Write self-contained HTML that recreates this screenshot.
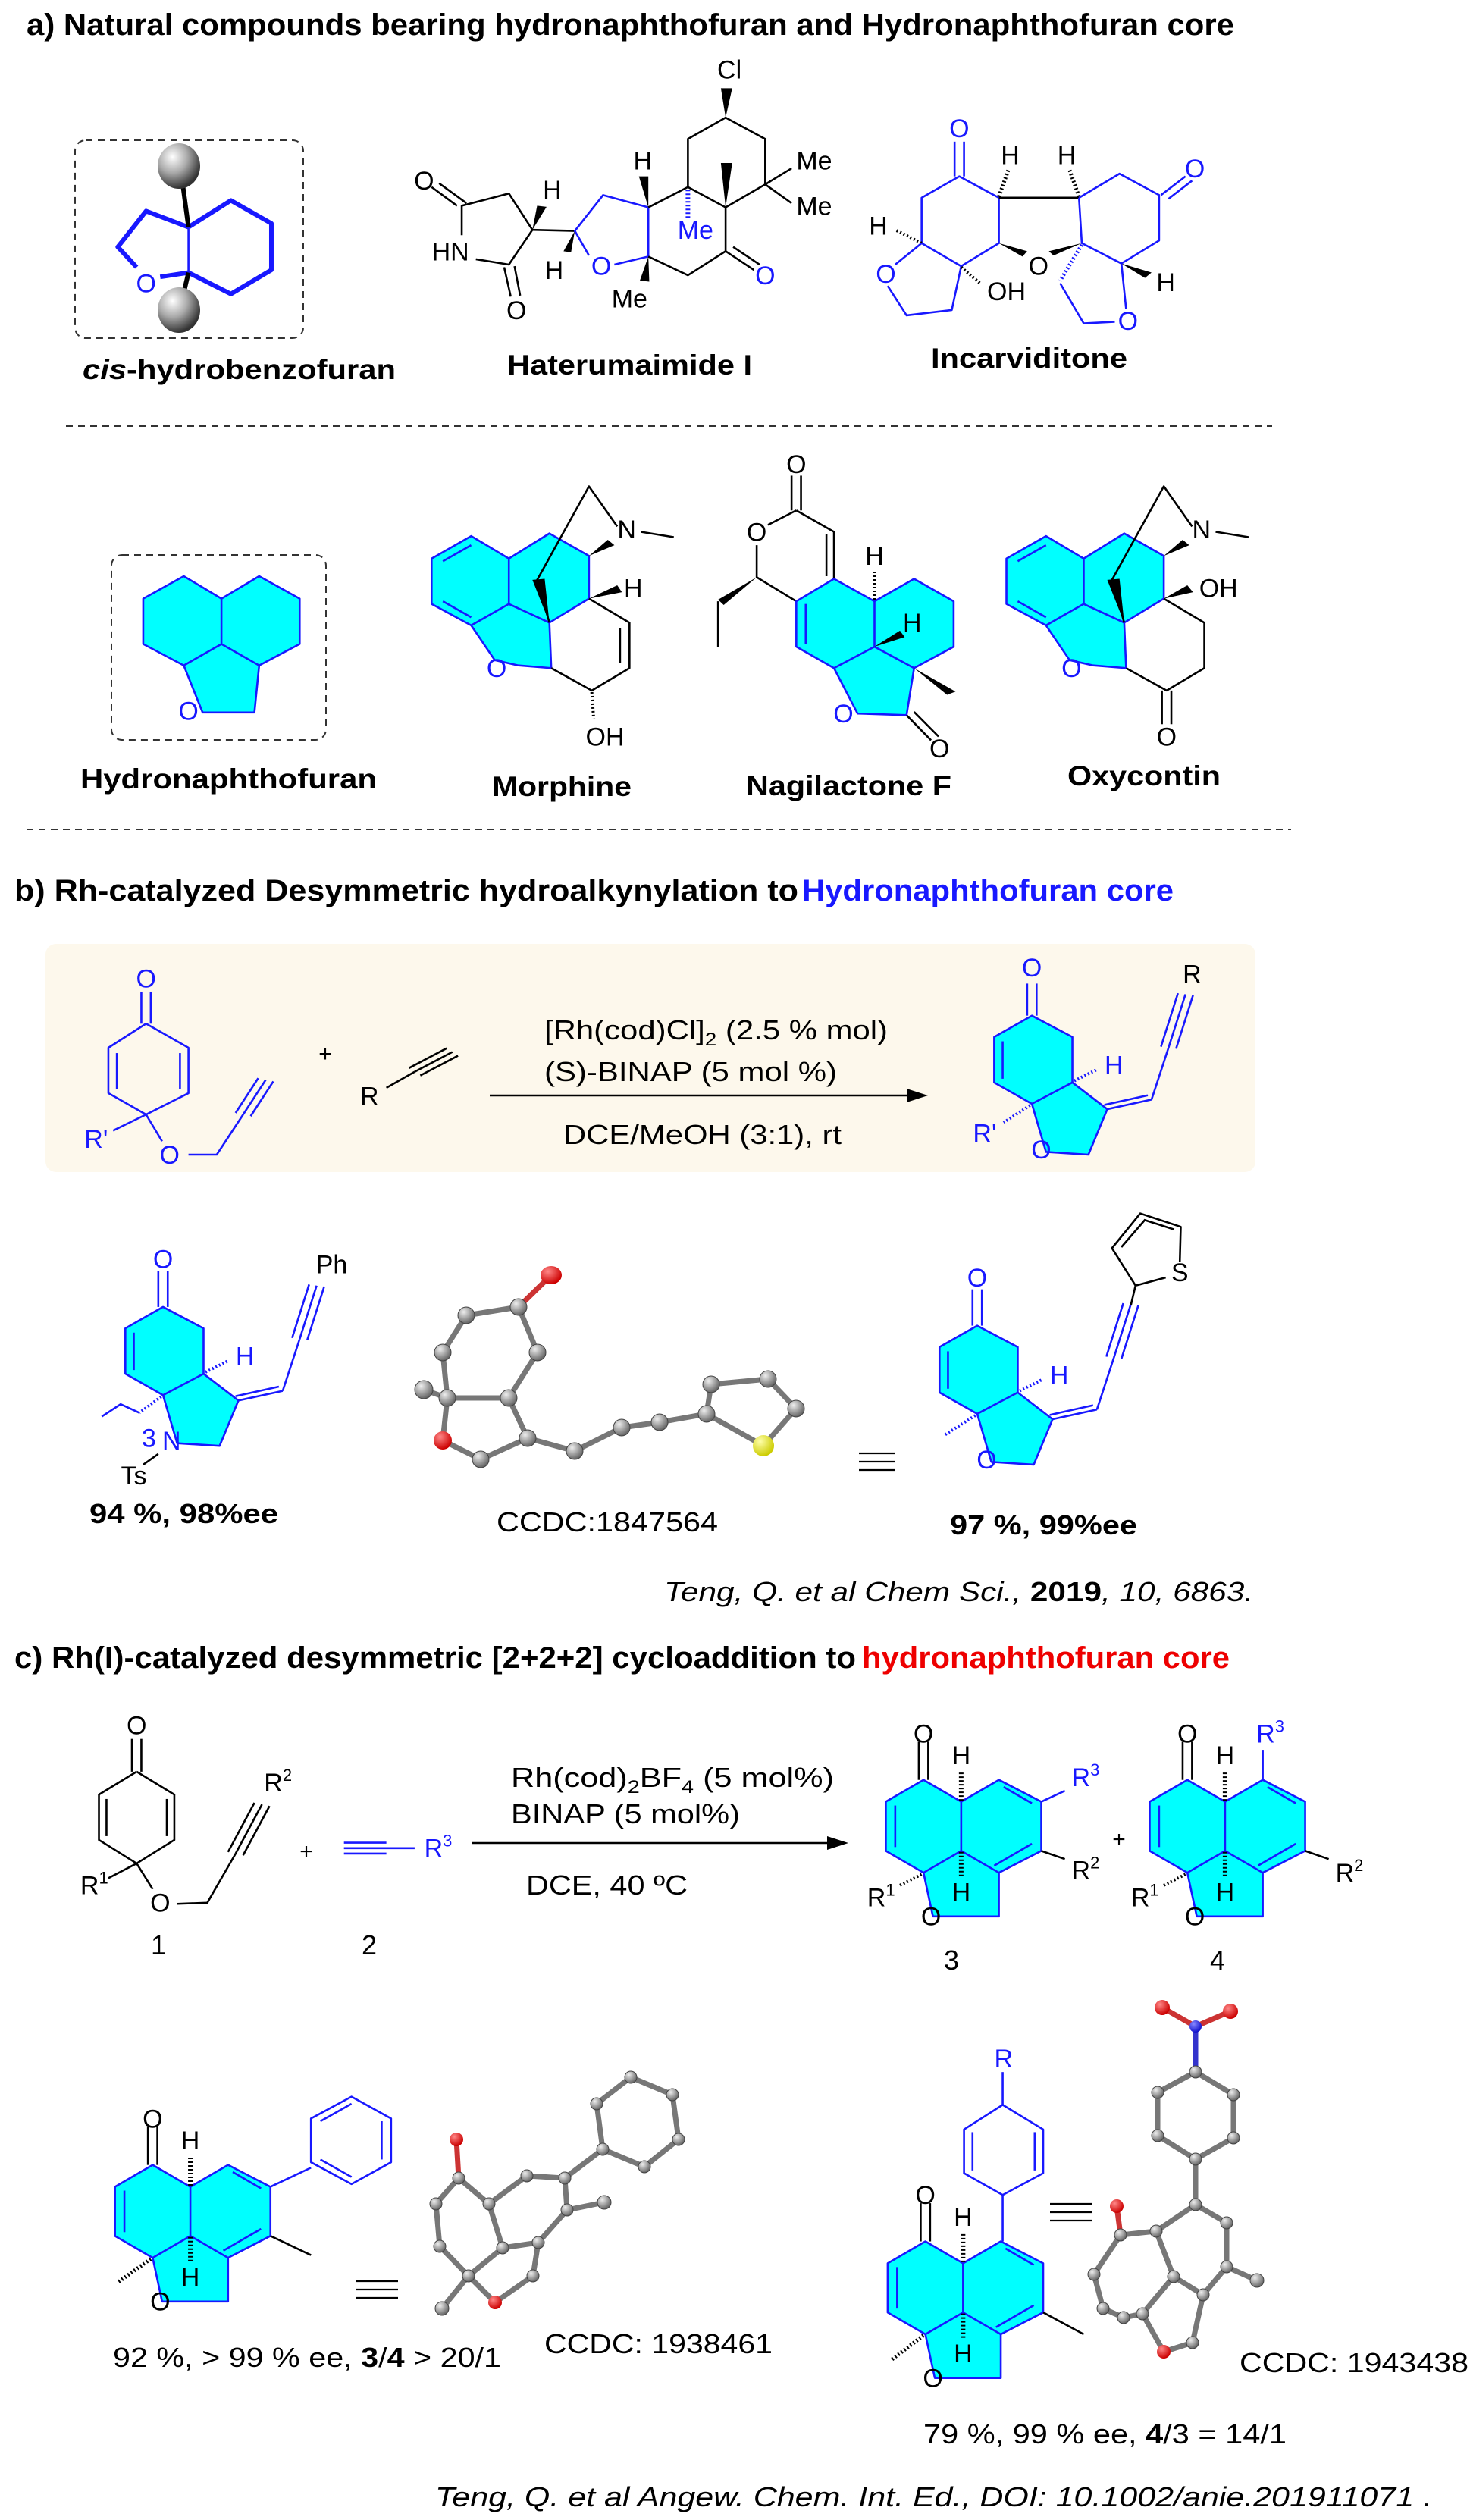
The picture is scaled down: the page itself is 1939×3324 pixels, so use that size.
<!DOCTYPE html>
<html><head><meta charset="utf-8"><style>
html,body{margin:0;padding:0;background:#fff}
svg{display:block}
.b,.k,.c,.g{vector-effect:non-scaling-stroke;stroke-width:2.6;fill:none;stroke-linejoin:round}
.b{stroke:#1818ff}.k{stroke:#000}.c{fill:#00ffff;stroke:#1818ff}
.h{vector-effect:non-scaling-stroke;stroke-width:7;stroke-dasharray:2 3;fill:none}
text{font-family:"Liberation Sans",Arial,sans-serif}
.at{font-size:34px;text-anchor:middle}
.bl{fill:#1818ff}
.st{stroke:#777;stroke-width:7;stroke-linecap:round}
.ball{fill:#8a8a95;stroke:#555;stroke-width:1.5}
</style></head><body>
<svg width="1939" height="3324" viewBox="0 0 1939 3324" xmlns="http://www.w3.org/2000/svg">
<defs>
<radialGradient id="sp" cx="35%" cy="30%" r="70%"><stop offset="0" stop-color="#fff"/><stop offset="0.5" stop-color="#aaa"/><stop offset="1" stop-color="#333"/></radialGradient>
<radialGradient id="gb" cx="35%" cy="30%" r="70%"><stop offset="0" stop-color="#eee"/><stop offset="1" stop-color="#666"/></radialGradient>
<radialGradient id="rb" cx="35%" cy="30%" r="70%"><stop offset="0" stop-color="#f88"/><stop offset="1" stop-color="#c00"/></radialGradient>
<radialGradient id="yb" cx="35%" cy="30%" r="70%"><stop offset="0" stop-color="#ffa"/><stop offset="1" stop-color="#cc0"/></radialGradient>
<radialGradient id="nb" cx="35%" cy="30%" r="70%"><stop offset="0" stop-color="#88f"/><stop offset="1" stop-color="#11c"/></radialGradient>
</defs>

<!-- Headers -->
<text x="35" y="46" font-size="40" font-weight="bold" textLength="1593" lengthAdjust="spacingAndGlyphs">a) Natural compounds bearing hydronaphthofuran and Hydronaphthofuran core</text>
<text x="19" y="1188" font-size="40" font-weight="bold" textLength="1034" lengthAdjust="spacingAndGlyphs">b)  Rh-catalyzed Desymmetric  hydroalkynylation to</text>
<text x="1058" y="1188" font-size="40" font-weight="bold" fill="#1818ff" textLength="490" lengthAdjust="spacingAndGlyphs">Hydronaphthofuran core</text>
<text x="19" y="2200" font-size="40" font-weight="bold" textLength="1110" lengthAdjust="spacingAndGlyphs">c)  Rh(I)-catalyzed desymmetric [2+2+2] cycloaddition to</text>
<text x="1137" y="2200" font-size="40" font-weight="bold" fill="#ee0000" textLength="485" lengthAdjust="spacingAndGlyphs">hydronaphthofuran core</text>

<line x1="87" y1="562" x2="1678" y2="562" stroke="#333" stroke-width="2" stroke-dasharray="9 7"/>
<line x1="35" y1="1094" x2="1703" y2="1094" stroke="#333" stroke-width="2" stroke-dasharray="9 7"/>
<rect x="99" y="185" width="301" height="261" rx="14" fill="none" stroke="#333" stroke-width="2" stroke-dasharray="9 7"/>
<rect x="147" y="732" width="283" height="244" rx="14" fill="none" stroke="#333" stroke-width="2" stroke-dasharray="9 7"/>

<g font-size="37" font-weight="bold">
<text x="109" y="500" textLength="413" lengthAdjust="spacingAndGlyphs"><tspan font-style="italic">cis</tspan>-hydrobenzofuran</text>
<text x="669" y="494" textLength="323" lengthAdjust="spacingAndGlyphs">Haterumaimide I</text>
<text x="1228" y="485" textLength="259" lengthAdjust="spacingAndGlyphs">Incarviditone</text>
<text x="106" y="1040" textLength="391" lengthAdjust="spacingAndGlyphs">Hydronaphthofuran</text>
<text x="649" y="1050" textLength="184" lengthAdjust="spacingAndGlyphs">Morphine</text>
<text x="984" y="1049" textLength="271" lengthAdjust="spacingAndGlyphs">Nagilactone F</text>
<text x="1408" y="1036" textLength="202" lengthAdjust="spacingAndGlyphs">Oxycontin</text>
</g>

<g transform="matrix(1.243 0 0 0.705 0 0)">
 <polyline class="b" points="200,425 245,375 288,418 288,505 245,550 200,510" style="stroke-width:6"/>
 <line class="b" x1="200" y1="425" x2="200" y2="510"/>
 <polyline class="b" points="200,425 155,395 125,462 145,500" style="stroke-width:6"/>
 <line class="b" x1="170" y1="518" x2="200" y2="510" style="stroke-width:6"/>
 <line class="k" x1="200" y1="425" x2="192" y2="320" style="stroke-width:6"/>
 <line class="k" x1="200" y1="510" x2="192" y2="570" style="stroke-width:6"/>
 <text class="at bl" transform="translate(155 530) scale(.8045 1.4184)" dy=".35em">O</text>

 <polyline class="k" points="490,440 490,385 540,362 565,430 540,495 505,485"/>
 <line class="k" x1="485" y1="385" x2="458" y2="350"/><line class="k" x1="495" y1="380" x2="466" y2="343"/>
 <line class="k" x1="535" y1="500" x2="542" y2="555"/><line class="k" x1="546" y1="498" x2="552" y2="553"/>
 <text class="at" transform="translate(450 338) scale(.8045 1.4184)" dy=".35em">O</text>
 <text class="at" transform="translate(548 580) scale(.8045 1.4184)" dy=".35em">O</text>
 <text class="at" transform="translate(478 470) scale(.8045 1.4184)" dy=".35em">HN</text>
 <polygon points="565,430 570,385 580,387" fill="#000"/>
 <text class="at" transform="translate(586 355) scale(.8045 1.4184)" dy=".35em">H</text>
 <line class="k" x1="565" y1="430" x2="610" y2="432"/>
 <polygon points="610,432 598,470 606,472" fill="#000"/>
 <text class="at" transform="translate(588 505) scale(.8045 1.4184)" dy=".35em">H</text>
 <polyline class="b" points="625,478 610,432 640,365 688,388 688,480 652,495"/>
 <text class="at bl" transform="translate(638 497) scale(.8045 1.4184)" dy=".35em">O</text>
 <polygon points="688,388 678,330 688,330" fill="#000"/>
 <text class="at" transform="translate(682 300) scale(.8045 1.4184)" dy=".35em">H</text>
 <polyline class="k" points="688,388 730,350 770,388 770,470 730,515 688,480"/>
 <polygon points="688,480 679,525 689,527" fill="#000"/>
 <text class="at" transform="translate(668 558) scale(.8045 1.4184)" dy=".35em">Me</text>
 <polyline class="k" points="730,350 730,260 770,220 812,260 812,345 770,388"/>
 <polygon points="770,220 765,165 777,165" fill="#000"/>
 <text class="at" transform="translate(774 130) scale(.8045 1.4184)" dy=".35em">Cl</text>
 <polygon points="770,388 765,305 777,305" fill="#000"/>
 <line class="k" x1="812" y1="345" x2="840" y2="315"/><line class="k" x1="812" y1="345" x2="840" y2="380"/>
 <text class="at" transform="translate(864 300) scale(.8045 1.4184)" dy=".35em">Me</text>
 <text class="at" transform="translate(864 385) scale(.8045 1.4184)" dy=".35em">Me</text>
 <line class="h" x1="730" y1="355" x2="730" y2="410" stroke="#1818ff" style="stroke-width:6"/>
 <text class="at bl" transform="translate(738 430) scale(.8045 1.4184)" dy=".35em">Me</text>
 <line class="k" x1="770" y1="470" x2="800" y2="505"/><line class="k" x1="778" y1="462" x2="806" y2="495"/>
 <text class="at bl" transform="translate(812 515) scale(.8045 1.4184)" dy=".35em">O</text>

 <polyline class="b" points="1060,370 1018,330 978,370 978,455 1020,498 1060,455 1060,370"/>
 <line class="b" x1="1013" y1="330" x2="1013" y2="265"/><line class="b" x1="1023" y1="330" x2="1023" y2="265"/>
 <text class="at bl" transform="translate(1018 240) scale(.8045 1.4184)" dy=".35em">O</text>
 <line class="k" x1="1060" y1="370" x2="1145" y2="370"/>
 <line class="h" x1="1060" y1="368" x2="1070" y2="318" stroke="#000" style="stroke-width:5"/>
 <line class="h" x1="1145" y1="368" x2="1135" y2="318" stroke="#000" style="stroke-width:5"/>
 <text class="at" transform="translate(1072 290) scale(.8045 1.4184)" dy=".35em">H</text>
 <text class="at" transform="translate(1132 290) scale(.8045 1.4184)" dy=".35em">H</text>
 <polyline class="b" points="1145,370 1188,325 1230,365 1230,450 1190,493 1148,455 1145,370"/>
 <line class="b" x1="1232" y1="365" x2="1258" y2="330"/><line class="b" x1="1240" y1="372" x2="1265" y2="338"/>
 <text class="at bl" transform="translate(1268 315) scale(.8045 1.4184)" dy=".35em">O</text>
 <polygon points="1060,455 1085,480 1090,470" fill="#000"/><polygon points="1148,455 1118,478 1113,470" fill="#000"/>
 <text class="at" transform="translate(1102 497) scale(.8045 1.4184)" dy=".35em">O</text>
 <line class="h" x1="978" y1="455" x2="950" y2="430" stroke="#000" style="stroke-width:4"/>
 <text class="at" transform="translate(932 422) scale(.8045 1.4184)" dy=".35em">H</text>
 <polyline class="b" points="978,455 950,495"/><polyline class="b" points="942,535 962,590 1010,580 1020,498"/>
 <text class="at bl" transform="translate(940 512) scale(.8045 1.4184)" dy=".35em">O</text>
 <line class="h" x1="1020" y1="500" x2="1040" y2="530" stroke="#000" style="stroke-width:4"/>
 <text class="at" transform="translate(1068 545) scale(.8045 1.4184)" dy=".35em">OH</text>
 <line class="h" x1="1148" y1="458" x2="1125" y2="525" stroke="#1818ff" style="stroke-width:5"/>
 <polyline class="b" points="1125,530 1150,605 1183,602"/><polyline class="b" points="1195,578 1190,493"/>
 <text class="at bl" transform="translate(1197 600) scale(.8045 1.4184)" dy=".35em">O</text>
 <polygon points="1190,493 1215,520 1222,510" fill="#000"/>
 <text class="at" transform="translate(1237 528) scale(.8045 1.4184)" dy=".35em">H</text>

 <polygon class="c" points="195,1078 235,1120 275,1078 318,1120 318,1205 275,1245 270,1333 215,1333 195,1245 152,1205 152,1120"/>
 <polyline class="b" points="235,1120 235,1205 195,1245"/><polyline class="b" points="235,1205 275,1245"/>
 <text class="at bl" transform="translate(200 1330) scale(.8045 1.4184)" dy=".35em">O</text>

 <polygon class="c" points="458,1045 500,1003 540,1045 583,998 625,1040 625,1120 583,1165 585,1250 550,1245 525,1235 500,1170 458,1130"/>
 <polyline class="b" points="540,1045 540,1130 500,1170"/><line class="b" x1="540" y1="1130" x2="583" y2="1165"/>
 <line class="b" x1="470" y1="1050" x2="500" y2="1020"/><line class="b" x1="470" y1="1125" x2="500" y2="1155"/>
 <text class="at bl" transform="translate(527 1250) scale(.8045 1.4184)" dy=".35em">O</text>
 <polyline class="k" points="585,1250 628,1292 668,1250 668,1165 625,1120"/>
 <line class="k" x1="658" y1="1175" x2="658" y2="1240"/>
 <line class="h" x1="628" y1="1295" x2="630" y2="1345" stroke="#000" style="stroke-width:4"/>
 <text class="at" transform="translate(642 1378) scale(.8045 1.4184)" dy=".35em">OH</text>
 <polygon points="625,1120 655,1095 660,1108" fill="#000"/>
 <text class="at" transform="translate(672 1100) scale(.8045 1.4184)" dy=".35em">H</text>
 <polygon points="625,1040 645,1010 652,1020" fill="#000"/>
 <polyline class="k" points="583,1165 570,1085 625,910 655,985"/>
 <polygon points="583,1165 565,1085 578,1083" fill="#000"/>
 <text class="at" transform="translate(665 990) scale(.8045 1.4184)" dy=".35em">N</text>
 <line class="k" x1="680" y1="995" x2="715" y2="1005"/>

 <polyline class="k" points="845,955 885,995 885,1083"/><line class="k" x1="877" y1="1000" x2="877" y2="1078"/>
 <polyline class="k" points="845,955 815,982"/><polyline class="k" points="803,1020 803,1080 845,1125"/>
 <line class="k" x1="840" y1="955" x2="840" y2="890"/><line class="k" x1="850" y1="955" x2="850" y2="890"/>
 <text class="at" transform="translate(845 868) scale(.8045 1.4184)" dy=".35em">O</text>
 <text class="at" transform="translate(803 995) scale(.8045 1.4184)" dy=".35em">O</text>
 <polygon points="803,1080 762,1122 768,1132" fill="#000"/><line class="k" x1="762" y1="1125" x2="762" y2="1210"/>
 <polygon class="c" points="885,1083 928,1125 970,1083 1012,1125 1012,1210 970,1250 962,1338 910,1335 885,1250 845,1210 845,1125"/>
 <polyline class="b" points="928,1125 928,1210 885,1250"/><polyline class="b" points="928,1210 970,1250"/>
 <line class="b" x1="855" y1="1130" x2="855" y2="1205"/>
 <text class="at bl" transform="translate(895 1335) scale(.8045 1.4184)" dy=".35em">O</text>
 <line class="k" x1="962" y1="1338" x2="988" y2="1385"/><line class="k" x1="970" y1="1332" x2="996" y2="1378"/>
 <text class="at" transform="translate(997 1400) scale(.8045 1.4184)" dy=".35em">O</text>
 <polygon points="970,1250 1005,1300 1014,1294" fill="#000"/>
 <line class="h" x1="928" y1="1122" x2="928" y2="1070" stroke="#000" style="stroke-width:4"/>
 <text class="at" transform="translate(928 1040) scale(.8045 1.4184)" dy=".35em">H</text>
 <polygon points="928,1210 955,1180 960,1192" fill="#000"/>
 <text class="at" transform="translate(968 1165) scale(.8045 1.4184)" dy=".35em">H</text>

 <g transform="translate(610 0)">
 <polygon class="c" points="458,1045 500,1003 540,1045 583,998 625,1040 625,1120 583,1165 585,1250 550,1245 525,1235 500,1170 458,1130"/>
 <polyline class="b" points="540,1045 540,1130 500,1170"/><line class="b" x1="540" y1="1130" x2="583" y2="1165"/>
 <line class="b" x1="470" y1="1050" x2="500" y2="1020"/><line class="b" x1="470" y1="1125" x2="500" y2="1155"/>
 <text class="at bl" transform="translate(527 1250) scale(.8045 1.4184)" dy=".35em">O</text>
 <polyline class="k" points="585,1250 628,1292 668,1250 668,1165 625,1120"/>
 <line class="k" x1="623" y1="1292" x2="623" y2="1355"/><line class="k" x1="633" y1="1292" x2="633" y2="1355"/>
 <text class="at" transform="translate(628 1378) scale(.8045 1.4184)" dy=".35em">O</text>
 <polygon points="625,1120 650,1095 656,1108" fill="#000"/>
 <text class="at" transform="translate(683 1100) scale(.8045 1.4184)" dy=".35em">OH</text>
 <polygon points="625,1040 645,1010 652,1020" fill="#000"/>
 <polyline class="k" points="583,1165 570,1085 625,910 655,985"/>
 <polygon points="583,1165 565,1085 578,1083" fill="#000"/>
 <text class="at" transform="translate(665 990) scale(.8045 1.4184)" dy=".35em">N</text>
 <line class="k" x1="680" y1="995" x2="715" y2="1005"/>
 </g>
</g>
<ellipse cx="236" cy="219" rx="28" ry="30" fill="url(#sp)"/>
<ellipse cx="236" cy="409" rx="28" ry="30" fill="url(#sp)"/>

<!-- Section B -->
<rect x="60" y="1245" width="1596" height="301" rx="14" fill="#fdf8ec"/>
<g font-size="36">
<text x="718" y="1371" textLength="453" lengthAdjust="spacingAndGlyphs">[Rh(cod)Cl]<tspan font-size="24" dy="8">2</tspan><tspan dy="-8"> (2.5 % mol)</tspan></text>
<text x="718" y="1426" textLength="386" lengthAdjust="spacingAndGlyphs">(S)-BINAP (5 mol %)</text>
<text x="743" y="1509" textLength="367" lengthAdjust="spacingAndGlyphs">DCE/MeOH (3:1), rt</text>
<text x="655" y="2020" textLength="292" lengthAdjust="spacingAndGlyphs">CCDC:1847564</text>
<text x="876" y="2112" font-style="italic" textLength="777" lengthAdjust="spacingAndGlyphs">Teng, Q. et al Chem Sci., <tspan font-weight="bold" font-style="normal">2019</tspan>, 10, 6863.</text>
</g>
<g font-size="36" font-weight="bold">
<text x="118" y="2009" textLength="249" lengthAdjust="spacingAndGlyphs">94 %, 98%ee</text>
<text x="1253" y="2024" textLength="247" lengthAdjust="spacingAndGlyphs">97 %, 99%ee</text>
</g>
<line x1="646" y1="1445" x2="1205" y2="1445" stroke="#000" stroke-width="2.5"/>
<polygon points="1224,1445 1196,1436 1196,1454" fill="#000"/>
<text x="429" y="1400" font-size="30" text-anchor="middle">+</text>
<g stroke="#000" stroke-width="2.2">
<line x1="1133" y1="1917" x2="1180" y2="1917"/><line x1="1133" y1="1928" x2="1180" y2="1928"/><line x1="1133" y1="1939" x2="1180" y2="1939"/>
</g>

<g transform="matrix(1.243 0 0 0.705 0 1100)">
 <polyline class="b" points="155,355 200,400 200,485 155,525 115,485 115,400 155,355"/>
 <line class="b" x1="124" y1="410" x2="124" y2="478"/><line class="b" x1="191" y1="410" x2="191" y2="478"/>
 <line class="b" x1="150" y1="355" x2="150" y2="295"/><line class="b" x1="160" y1="355" x2="160" y2="295"/>
 <text class="at bl" transform="translate(155 270) scale(.8045 1.4184)" dy=".35em">O</text>
 <line class="b" x1="155" y1="525" x2="120" y2="555"/><line class="b" x1="155" y1="525" x2="172" y2="575"/>
 <text class="at bl" transform="translate(102 570) scale(.8045 1.4184)" dy=".35em">R'</text>
 <text class="at bl" transform="translate(180 600) scale(.8045 1.4184)" dy=".35em">O</text>
 <polyline class="b" points="200,600 230,600 258,525"/>
 <line class="b" x1="258" y1="525" x2="282" y2="460"/><line class="b" x1="250" y1="522" x2="274" y2="457"/><line class="b" x1="266" y1="528" x2="290" y2="463"/>
 <text class="at" transform="translate(392 490) scale(.8045 1.4184)" dy=".35em">R</text>
 <line class="k" x1="410" y1="475" x2="440" y2="445"/>
 <line class="k" x1="440" y1="445" x2="480" y2="408"/><line class="k" x1="434" y1="438" x2="474" y2="401"/><line class="k" x1="446" y1="452" x2="486" y2="415"/>
 <polygon class="c" points="1095,340 1138,380 1138,465 1175,515 1155,600 1110,595 1095,505 1055,465 1055,380"/>
 <line class="b" x1="1138" y1="465" x2="1095" y2="505"/>
 <line class="b" x1="1064" y1="388" x2="1064" y2="458"/>
 <line class="b" x1="1090" y1="340" x2="1090" y2="280"/><line class="b" x1="1100" y1="340" x2="1100" y2="280"/>
 <text class="at bl" transform="translate(1095 250) scale(.8045 1.4184)" dy=".35em">O</text>
 <line class="b" x1="1175" y1="515" x2="1222" y2="497"/><line class="b" x1="1172" y1="507" x2="1218" y2="489"/>
 <line class="b" x1="1222" y1="497" x2="1240" y2="400"/>
 <line class="b" x1="1240" y1="400" x2="1258" y2="300"/><line class="b" x1="1232" y1="398" x2="1250" y2="298"/><line class="b" x1="1248" y1="402" x2="1266" y2="302"/>
 <text class="at" transform="translate(1265 262) scale(.8045 1.4184)" dy=".35em">R</text>
 <line class="h" x1="1140" y1="462" x2="1165" y2="440" stroke="#1818ff" style="stroke-width:4"/>
 <text class="at bl" transform="translate(1182 432) scale(.8045 1.4184)" dy=".35em">H</text>
 <line class="h" x1="1093" y1="508" x2="1065" y2="540" stroke="#1818ff" style="stroke-width:4"/>
 <text class="at bl" transform="translate(1045 560) scale(.8045 1.4184)" dy=".35em">R'</text>
 <text class="at bl" transform="translate(1105 590) scale(.8045 1.4184)" dy=".35em">O</text>

 <g transform="translate(-922 545)">
 <polygon class="c" points="1095,340 1138,380 1138,465 1175,515 1155,600 1110,595 1095,505 1055,465 1055,380"/>
 <line class="b" x1="1138" y1="465" x2="1095" y2="505"/>
 <line class="b" x1="1064" y1="388" x2="1064" y2="458"/>
 <line class="b" x1="1090" y1="340" x2="1090" y2="272"/><line class="b" x1="1100" y1="340" x2="1100" y2="272"/>
 <text class="at bl" transform="translate(1095 250) scale(.8045 1.4184)" dy=".35em">O</text>
 <line class="b" x1="1175" y1="515" x2="1222" y2="497"/><line class="b" x1="1172" y1="507" x2="1218" y2="489"/>
 <line class="b" x1="1222" y1="497" x2="1240" y2="400"/>
 <line class="b" x1="1240" y1="400" x2="1258" y2="300"/><line class="b" x1="1232" y1="398" x2="1250" y2="298"/><line class="b" x1="1248" y1="402" x2="1266" y2="302"/>
 <line class="h" x1="1140" y1="462" x2="1165" y2="440" stroke="#1818ff" style="stroke-width:4"/>
 <text class="at bl" transform="translate(1182 432) scale(.8045 1.4184)" dy=".35em">H</text>
 <line class="h" x1="1093" y1="508" x2="1070" y2="538" stroke="#1818ff" style="stroke-width:4"/>
 <polyline class="b" points="1070,538 1050,522 1030,545"/>
 </g>
 <text class="at" transform="translate(352 805) scale(.8045 1.4184)" dy=".35em">Ph</text>
 <text class="at bl" transform="translate(182 1135) scale(.8045 1.4184)" dy=".35em">N</text>
 <text class="at bl" transform="translate(158 1130) scale(.8045 1.4184)" dy=".35em" font-size="24">3</text>
 <line class="k" x1="168" y1="1160" x2="152" y2="1180"/>
 <text class="at" transform="translate(142 1200) scale(.8045 1.4184)" dy=".35em">Ts</text>

 <g transform="translate(-58 580)">
 <polygon class="c" points="1095,340 1138,380 1138,465 1175,515 1155,600 1110,595 1095,505 1055,465 1055,380"/>
 <line class="b" x1="1138" y1="465" x2="1095" y2="505"/>
 <line class="b" x1="1064" y1="388" x2="1064" y2="458"/>
 <line class="b" x1="1090" y1="340" x2="1090" y2="272"/><line class="b" x1="1100" y1="340" x2="1100" y2="272"/>
 <text class="at bl" transform="translate(1095 250) scale(.8045 1.4184)" dy=".35em">O</text>
 <line class="b" x1="1175" y1="515" x2="1222" y2="497"/><line class="b" x1="1172" y1="507" x2="1218" y2="489"/>
 <line class="b" x1="1222" y1="497" x2="1240" y2="400"/>
 <line class="b" x1="1240" y1="400" x2="1258" y2="300"/><line class="b" x1="1232" y1="398" x2="1250" y2="298"/><line class="b" x1="1248" y1="402" x2="1266" y2="302"/>
 <line class="h" x1="1140" y1="462" x2="1165" y2="440" stroke="#1818ff" style="stroke-width:4"/>
 <text class="at bl" transform="translate(1182 432) scale(.8045 1.4184)" dy=".35em">H</text>
 <line class="h" x1="1093" y1="508" x2="1060" y2="545" stroke="#1818ff" style="stroke-width:4"/>
 <text class="at bl" transform="translate(1105 590) scale(.8045 1.4184)" dy=".35em">O</text>
 </g>
 <!-- thiophene -->
 <line class="k" x1="1200" y1="882" x2="1205" y2="845"/>
 <polyline class="k" points="1237,830 1205,845 1180,775 1210,710 1253,735 1252,800"/>
 <line class="k" x1="1190" y1="773" x2="1215" y2="722"/><line class="k" x1="1214" y1="722" x2="1246" y2="740"/>
 <text class="at" transform="translate(1252 820) scale(.8045 1.4184)" dy=".35em">S</text>
</g>
<g>
<g class="st">
<line x1="727" y1="1682" x2="684" y2="1724" stroke="#c33"/>
<polyline points="684,1724 615,1735 584,1784 590,1844 671,1844 709,1784 684,1724" fill="none"/>
<line x1="590" y1="1844" x2="559" y2="1833"/>
<polyline points="590,1844 584,1900 634,1925 696,1897 671,1844" fill="none"/>
<polyline points="696,1897 758,1914 820,1883 870,1876 932,1865" fill="none"/>
<polyline points="932,1865 938,1826 1013,1819 1050,1858 1007,1907 932,1865" fill="none"/>
</g>
<g fill="url(#gb)" stroke="#444" stroke-width="1">
<circle cx="684" cy="1724" r="11"/><circle cx="615" cy="1735" r="11"/><circle cx="584" cy="1784" r="11"/><circle cx="590" cy="1844" r="11"/><circle cx="671" cy="1844" r="11"/><circle cx="709" cy="1784" r="11"/><circle cx="559" cy="1833" r="12"/><circle cx="634" cy="1925" r="11"/><circle cx="696" cy="1897" r="11"/><circle cx="758" cy="1914" r="11"/><circle cx="820" cy="1883" r="11"/><circle cx="870" cy="1876" r="11"/><circle cx="932" cy="1865" r="11"/><circle cx="938" cy="1826" r="11"/><circle cx="1013" cy="1819" r="11"/><circle cx="1050" cy="1858" r="11"/>
</g>
<ellipse cx="727" cy="1682" rx="14" ry="12" fill="url(#rb)"/>
<circle cx="584" cy="1900" r="12" fill="url(#rb)"/>
<circle cx="1007" cy="1907" r="14" fill="url(#yb)"/>
</g>

<!-- Section C -->
<g font-size="36">
<text x="674" y="2357" textLength="426" lengthAdjust="spacingAndGlyphs">Rh(cod)<tspan font-size="24" dy="8">2</tspan><tspan dy="-8">BF</tspan><tspan font-size="24" dy="8">4</tspan><tspan dy="-8">  (5 mol%)</tspan></text>
<text x="674" y="2405" textLength="302" lengthAdjust="spacingAndGlyphs">BINAP (5 mol%)</text>
<text x="694" y="2499" textLength="213" lengthAdjust="spacingAndGlyphs">DCE, 40 ºC</text>
<text x="209" y="2578" text-anchor="middle">1</text>
<text x="487" y="2578" text-anchor="middle">2</text>
<text x="1255" y="2598" text-anchor="middle">3</text>
<text x="1606" y="2598" text-anchor="middle">4</text>
<text x="149" y="3122" textLength="512" lengthAdjust="spacingAndGlyphs">92 %, &gt; 99 % ee, <tspan font-weight="bold">3</tspan>/<tspan font-weight="bold">4</tspan> &gt; 20/1</text>
<text x="718" y="3104" textLength="301" lengthAdjust="spacingAndGlyphs">CCDC: 1938461</text>
<text x="1635" y="3129" textLength="302" lengthAdjust="spacingAndGlyphs">CCDC: 1943438</text>
<text x="1218" y="3223" textLength="479" lengthAdjust="spacingAndGlyphs">79 %, 99 % ee, <tspan font-weight="bold">4</tspan>/3 = 14/1</text>
<text x="574" y="3306" font-style="italic" textLength="1315" lengthAdjust="spacingAndGlyphs">Teng, Q. et al Angew. Chem. Int. Ed., DOI: 10.1002/anie.201911071 .</text>
</g>
<line x1="622" y1="2431" x2="1100" y2="2431" stroke="#000" stroke-width="2.5"/>
<polygon points="1119,2431 1091,2422 1091,2440" fill="#000"/>
<text x="404" y="2452" font-size="30" text-anchor="middle">+</text>
<text x="1476" y="2436" font-size="30" text-anchor="middle">+</text>
<g stroke="#000" stroke-width="2.2">
<line x1="470" y1="3009" x2="525" y2="3009"/><line x1="470" y1="3020" x2="525" y2="3020"/><line x1="470" y1="3031" x2="525" y2="3031"/>
<line x1="1385" y1="2907" x2="1440" y2="2907"/><line x1="1385" y1="2918" x2="1440" y2="2918"/><line x1="1385" y1="2929" x2="1440" y2="2929"/>
</g>

<g transform="matrix(1.243 0 0 0.7205 0 2200)">
 <polyline class="k" points="145,190 185,232 185,315 145,358 105,315 105,232 145,190"/>
 <line class="k" x1="113" y1="240" x2="113" y2="308"/><line class="k" x1="177" y1="240" x2="177" y2="308"/>
 <line class="k" x1="140" y1="190" x2="140" y2="130"/><line class="k" x1="150" y1="190" x2="150" y2="130"/>
 <text class="at" transform="translate(145 105) scale(.8045 1.388)" dy=".35em">O</text>
 <line class="k" x1="145" y1="358" x2="115" y2="385"/><line class="k" x1="145" y1="358" x2="162" y2="405"/>
 <text class="at" transform="translate(100 398) scale(.8045 1.388)" dy=".35em">R<tspan font-size="22" dy="-14">1</tspan></text>
 <text class="at" transform="translate(170 430) scale(.8045 1.388)" dy=".35em">O</text>
 <polyline class="k" points="188,432 220,430 250,340"/>
 <line class="k" x1="250" y1="340" x2="278" y2="250"/><line class="k" x1="242" y1="337" x2="270" y2="247"/><line class="k" x1="258" y1="343" x2="286" y2="253"/>
 <text class="at" transform="translate(295 210) scale(.8045 1.388)" dy=".35em">R<tspan font-size="22" dy="-14">2</tspan></text>
 <line class="b" x1="365" y1="320" x2="410" y2="320"/><line class="b" x1="365" y1="330" x2="440" y2="330"/><line class="b" x1="365" y1="340" x2="410" y2="340"/>
 <text class="at bl" transform="translate(465 330) scale(.8045 1.388)" dy=".35em">R<tspan font-size="22" dy="-14">3</tspan></text>

 <g id="p3">
 <polygon class="c" points="980,205 1020,245 1060,205 1105,245 1105,335 1060,375 1060,455 990,455 980,375 940,335 940,245"/>
 <polyline class="b" points="1020,245 1020,335 980,375"/><line class="b" x1="1020" y1="335" x2="1060" y2="375"/>
 <line class="b" x1="950" y1="252" x2="950" y2="328"/>
 <line class="b" x1="1065" y1="218" x2="1095" y2="248"/><line class="b" x1="1055" y1="362" x2="1095" y2="322"/>
 <line class="k" x1="975" y1="205" x2="975" y2="135"/><line class="k" x1="985" y1="205" x2="985" y2="135"/>
 <text class="at" transform="translate(980 120) scale(.8045 1.388)" dy=".35em">O</text>
 <line class="h" x1="1020" y1="243" x2="1020" y2="190" stroke="#000" style="stroke-width:6"/>
 <line class="h" x1="1020" y1="337" x2="1020" y2="385" stroke="#000" style="stroke-width:6"/>
 <text class="at" transform="translate(1020 160) scale(.8045 1.388)" dy=".35em">H</text>
 <text class="at" transform="translate(1020 410) scale(.8045 1.388)" dy=".35em">H</text>
 <text class="at" transform="translate(988 455) scale(.8045 1.388)" dy=".35em">O</text>
 </g>
 <line class="b" x1="1105" y1="245" x2="1130" y2="225"/><line class="k" x1="1105" y1="335" x2="1130" y2="350"/>
 <text class="at bl" transform="translate(1152 200) scale(.8045 1.388)" dy=".35em">R<tspan font-size="22" dy="-14">3</tspan></text>
 <text class="at" transform="translate(1152 370) scale(.8045 1.388)" dy=".35em">R<tspan font-size="22" dy="-14">2</tspan></text>
 <text class="at" transform="translate(935 420) scale(.8045 1.388)" dy=".35em">R<tspan font-size="22" dy="-14">1</tspan></text>
 <line class="h" x1="978" y1="378" x2="955" y2="398" stroke="#000" style="stroke-width:4"/>

 <use href="#p3" transform="translate(280 0)"/>
 <line class="b" x1="1340" y1="205" x2="1340" y2="150"/><line class="k" x1="1385" y1="335" x2="1410" y2="350"/>
 <text class="at bl" transform="translate(1348 120) scale(.8045 1.388)" dy=".35em">R<tspan font-size="22" dy="-14">3</tspan></text>
 <text class="at" transform="translate(1432 375) scale(.8045 1.388)" dy=".35em">R<tspan font-size="22" dy="-14">2</tspan></text>
 <text class="at" transform="translate(1215 420) scale(.8045 1.388)" dy=".35em">R<tspan font-size="22" dy="-14">1</tspan></text>
 <line class="h" x1="1258" y1="378" x2="1235" y2="398" stroke="#000" style="stroke-width:4"/>

 <use href="#p3" transform="translate(-818 705)"/>
 <line class="b" x1="287" y1="950" x2="330" y2="915"/>
 <polygon class="b" points="373,785 415,825 415,905 373,945 330,905 330,825"/>
 <line class="b" x1="340" y1="830" x2="373" y2="798"/><line class="b" x1="405" y1="830" x2="405" y2="900"/><line class="b" x1="340" y1="900" x2="373" y2="932"/>
 <line class="k" x1="287" y1="1040" x2="330" y2="1075"/>
 <line class="h" x1="160" y1="1082" x2="125" y2="1125" stroke="#000" style="stroke-width:5"/>

 <use href="#p3" transform="translate(2 845)"/>
 <line class="b" x1="1064" y1="1050" x2="1064" y2="965"/>
 <polygon class="b" points="1064,800 1107,845 1107,925 1064,965 1023,925 1023,845"/>
 <line class="b" x1="1032" y1="850" x2="1032" y2="920"/><line class="b" x1="1098" y1="850" x2="1098" y2="920"/>
 <line class="b" x1="1064" y1="800" x2="1064" y2="740"/>
 <text class="at bl" transform="translate(1065 715) scale(.8045 1.388)" dy=".35em">R</text>
 <line class="k" x1="1107" y1="1180" x2="1150" y2="1220"/>
 <line class="h" x1="980" y1="1222" x2="945" y2="1268" stroke="#000" style="stroke-width:5"/>
</g>

<g>
<g class="st">
<line x1="602" y1="2822" x2="605" y2="2873" stroke="#c33"/>
<polyline points="605,2873 575,2907 580,2963 618,3002 663,2965 645,2907 605,2873" fill="none"/>
<polyline points="618,3002 583,3045" fill="none"/>
<polyline points="618,3002 653,3037 703,3002 710,2958 663,2965" fill="none"/>
<polyline points="645,2907 695,2870 745,2873 748,2915 710,2958" fill="none"/>
<line x1="748" y1="2915" x2="797" y2="2905"/>
<line x1="745" y1="2873" x2="795" y2="2835"/>
<polyline points="795,2835 787,2775 832,2740 887,2763 895,2822 850,2858 795,2835" fill="none"/>
</g>
<g fill="url(#gb)" stroke="#444" stroke-width="1">
<circle cx="605" cy="2873" r="8"/><circle cx="575" cy="2907" r="8"/><circle cx="580" cy="2963" r="8"/><circle cx="618" cy="3002" r="8"/><circle cx="583" cy="3045" r="9"/><circle cx="703" cy="3002" r="8"/><circle cx="710" cy="2958" r="8"/><circle cx="663" cy="2965" r="8"/><circle cx="645" cy="2907" r="8"/><circle cx="695" cy="2870" r="8"/><circle cx="745" cy="2873" r="8"/><circle cx="748" cy="2915" r="8"/><circle cx="797" cy="2905" r="9"/><circle cx="795" cy="2835" r="8"/><circle cx="787" cy="2775" r="8"/><circle cx="832" cy="2740" r="8"/><circle cx="887" cy="2763" r="8"/><circle cx="895" cy="2822" r="8"/><circle cx="850" cy="2858" r="8"/>
</g>
<circle cx="602" cy="2822" r="9" fill="url(#rb)"/><circle cx="653" cy="3037" r="9" fill="url(#rb)"/>
</g>

<g>
<g class="st">
<line x1="1533" y1="2648" x2="1577" y2="2673" stroke="#c33"/><line x1="1623" y1="2653" x2="1577" y2="2673" stroke="#c33"/>
<line x1="1577" y1="2673" x2="1577" y2="2733" stroke="#33c"/>
<polyline points="1577,2733 1527,2760 1527,2817 1577,2848 1627,2820 1627,2763 1577,2733" fill="none"/>
<polyline points="1577,2848 1577,2908 1618,2932 1618,2990 1587,3027 1548,3003 1525,2943 1577,2908" fill="none"/>
<line x1="1618" y1="2990" x2="1658" y2="3008"/>
<line x1="1473" y1="2910" x2="1478" y2="2948" stroke="#c33"/>
<polyline points="1525,2943 1478,2948 1443,3000 1455,3045 1482,3057 1507,3052 1548,3003" fill="none"/>
<polyline points="1587,3027 1573,3090 1535,3102 1507,3052" fill="none"/>
</g>
<g fill="url(#gb)" stroke="#444" stroke-width="1">
<circle cx="1577" cy="2733" r="8"/><circle cx="1527" cy="2760" r="8"/><circle cx="1527" cy="2817" r="8"/><circle cx="1577" cy="2848" r="8"/><circle cx="1627" cy="2820" r="8"/><circle cx="1627" cy="2763" r="8"/><circle cx="1577" cy="2908" r="8"/><circle cx="1618" cy="2932" r="8"/><circle cx="1618" cy="2990" r="8"/><circle cx="1587" cy="3027" r="8"/><circle cx="1548" cy="3003" r="8"/><circle cx="1525" cy="2943" r="8"/><circle cx="1658" cy="3008" r="9"/><circle cx="1478" cy="2948" r="8"/><circle cx="1443" cy="3000" r="8"/><circle cx="1455" cy="3045" r="8"/><circle cx="1482" cy="3057" r="8"/><circle cx="1507" cy="3052" r="8"/><circle cx="1573" cy="3090" r="8"/>
</g>
<circle cx="1533" cy="2648" r="10" fill="url(#rb)"/><circle cx="1623" cy="2653" r="10" fill="url(#rb)"/>
<circle cx="1577" cy="2673" r="8" fill="url(#nb)"/>
<circle cx="1473" cy="2910" r="9" fill="url(#rb)"/><circle cx="1535" cy="3102" r="9" fill="url(#rb)"/>
</g>
</svg>
</body></html>
